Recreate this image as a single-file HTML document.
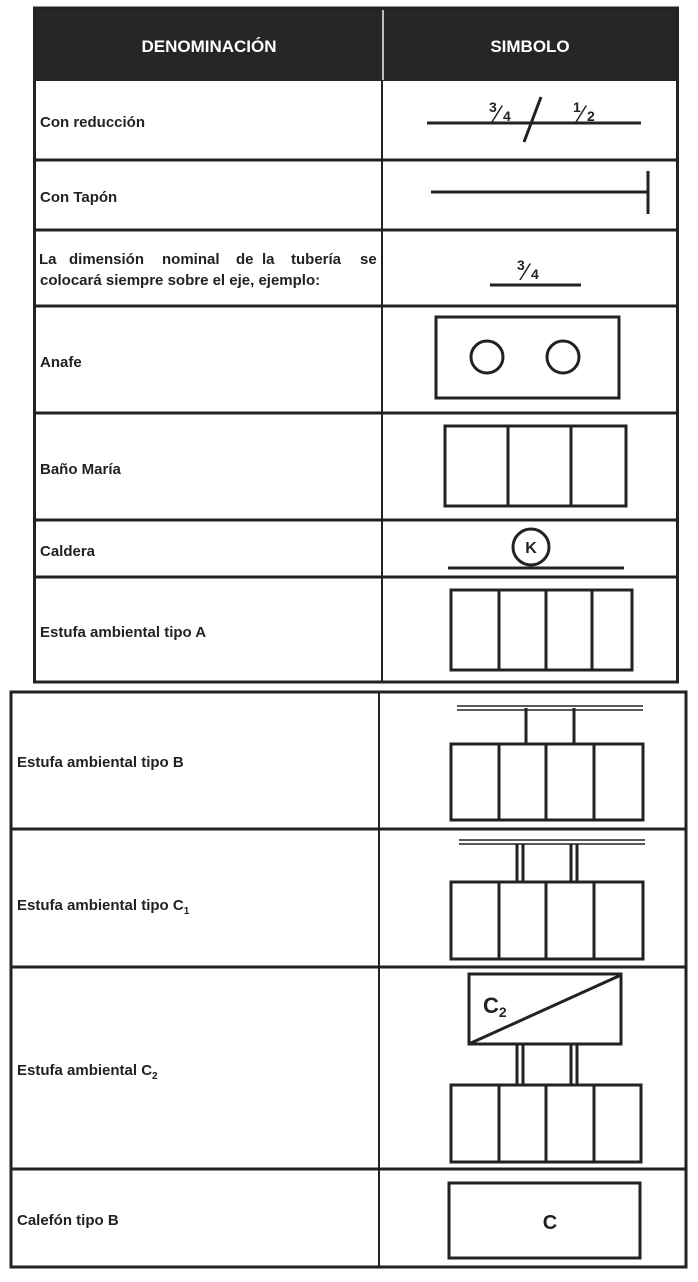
<!DOCTYPE html>
<html><head><meta charset="utf-8"><style>html,body{margin:0;padding:0;background:#fff}svg{display:block}</style></head>
<body>
<svg width="698" height="1282" viewBox="0 0 698 1282" xmlns="http://www.w3.org/2000/svg" font-family="Liberation Sans, sans-serif" font-weight="bold" fill="none" stroke="#222">
<!-- Table 1 -->
<rect x="33" y="7" width="646" height="74" fill="#262626" stroke="none"/>
<line x1="383" y1="10" x2="383" y2="80" stroke="#eee" stroke-width="1.5"/>
<text x="209" y="52" fill="#fff" stroke="none" font-size="17" text-anchor="middle">DENOMINACIÓN</text>
<text x="530" y="52" fill="#fff" stroke="none" font-size="17" text-anchor="middle">SIMBOLO</text>
<rect x="34.5" y="8" width="643" height="674" stroke-width="3"/>
<line x1="382" y1="80" x2="382" y2="682" stroke-width="2"/>
<g stroke-width="3">
<line x1="34" y1="160" x2="678" y2="160"/>
<line x1="34" y1="230" x2="678" y2="230"/>
<line x1="34" y1="306" x2="678" y2="306"/>
<line x1="34" y1="413" x2="678" y2="413"/>
<line x1="34" y1="520" x2="678" y2="520"/>
<line x1="34" y1="577" x2="678" y2="577"/>
</g>
<g fill="#222" stroke="none" font-size="15">
<text x="40" y="127">Con reducción</text>
<text x="40" y="202">Con Tapón</text>
<text x="39" y="264">La</text>
<text x="69" y="264">dimensión</text>
<text x="162" y="264">nominal</text>
<text x="236" y="264">de</text>
<text x="262" y="264">la</text>
<text x="291" y="264">tubería</text>
<text x="360" y="264">se</text>
<text x="40" y="285">colocará siempre sobre el eje, ejemplo:</text>
<text x="40" y="367">Anafe</text>
<text x="40" y="474">Baño María</text>
<text x="40" y="556">Caldera</text>
<text x="40" y="637">Estufa ambiental tipo A</text>
</g>
<g stroke-width="3">
<line x1="427" y1="123" x2="641" y2="123"/>
<line x1="524" y1="142" x2="541" y2="97"/>
<line x1="431" y1="192" x2="648" y2="192"/>
<line x1="648" y1="171" x2="648" y2="214"/>
<line x1="490" y1="285" x2="581" y2="285"/>
<rect x="436" y="317" width="183" height="81"/>
<circle cx="487" cy="357" r="16"/>
<circle cx="563" cy="357" r="16"/>
<rect x="445" y="426" width="181" height="80"/>
<line x1="508" y1="426" x2="508" y2="506"/>
<line x1="571" y1="426" x2="571" y2="506"/>
<line x1="448" y1="568" x2="624" y2="568"/>
<circle cx="531" cy="547" r="18" fill="#fff"/>
<rect x="451" y="590" width="181" height="80"/>
<line x1="499" y1="590" x2="499" y2="670"/>
<line x1="546" y1="590" x2="546" y2="670"/>
<line x1="592" y1="590" x2="592" y2="670"/>
</g>
<g fill="#222" stroke="none" font-size="14">
<text x="489" y="112">3</text><text x="496" y="122" font-size="24" font-weight="normal">⁄</text><text x="503" y="121">4</text>
<text x="573" y="112">1</text><text x="580" y="122" font-size="24" font-weight="normal">⁄</text><text x="587" y="121">2</text>
<text x="517" y="270">3</text><text x="524" y="280" font-size="24" font-weight="normal">⁄</text><text x="531" y="279">4</text>
<text x="531" y="553" font-size="16" text-anchor="middle">K</text>
</g>
<!-- Table 2 -->
<rect x="11" y="692" width="675" height="575" stroke-width="3"/>
<line x1="379" y1="692" x2="379" y2="1267" stroke-width="2"/>
<g stroke-width="3">
<line x1="11" y1="829" x2="686" y2="829"/>
<line x1="11" y1="967" x2="686" y2="967"/>
<line x1="11" y1="1169" x2="686" y2="1169"/>
</g>
<g fill="#222" stroke="none" font-size="15">
<text x="17" y="767">Estufa ambiental tipo B</text>
<text x="17" y="910">Estufa ambiental tipo C<tspan font-size="10" dy="4">1</tspan></text>
<text x="17" y="1075">Estufa ambiental C<tspan font-size="10" dy="4">2</tspan></text>
<text x="17" y="1225">Calefón tipo B</text>
</g>
<g stroke-width="1.5">
<line x1="457" y1="706" x2="643" y2="706"/><line x1="457" y1="710" x2="643" y2="710"/>
<line x1="459" y1="840" x2="645" y2="840"/><line x1="459" y1="844" x2="645" y2="844"/>
</g>
<g stroke-width="3">
<line x1="526" y1="708" x2="526" y2="744"/>
<line x1="574" y1="708" x2="574" y2="744"/>
<rect x="451" y="744" width="192" height="76"/>
<line x1="499" y1="744" x2="499" y2="820"/><line x1="546" y1="744" x2="546" y2="820"/><line x1="594" y1="744" x2="594" y2="820"/>
<line x1="517" y1="844" x2="517" y2="882"/><line x1="523" y1="844" x2="523" y2="882"/>
<line x1="571" y1="844" x2="571" y2="882"/><line x1="577" y1="844" x2="577" y2="882"/>
<rect x="451" y="882" width="192" height="77"/>
<line x1="499" y1="882" x2="499" y2="959"/><line x1="546" y1="882" x2="546" y2="959"/><line x1="594" y1="882" x2="594" y2="959"/>
<rect x="469" y="974" width="152" height="70"/>
<line x1="471" y1="1043" x2="621" y2="975"/>
<line x1="517" y1="1044" x2="517" y2="1085"/><line x1="523" y1="1044" x2="523" y2="1085"/>
<line x1="571" y1="1044" x2="571" y2="1085"/><line x1="577" y1="1044" x2="577" y2="1085"/>
<rect x="451" y="1085" width="190" height="77"/>
<line x1="499" y1="1085" x2="499" y2="1162"/><line x1="546" y1="1085" x2="546" y2="1162"/><line x1="594" y1="1085" x2="594" y2="1162"/>
<rect x="449" y="1183" width="191" height="75"/>
</g>
<g fill="#222" stroke="none">
<text x="483" y="1013" font-size="22">C<tspan font-size="14" dy="4">2</tspan></text>
<text x="550" y="1229" font-size="20" text-anchor="middle">C</text>
</g>
</svg>
</body></html>
